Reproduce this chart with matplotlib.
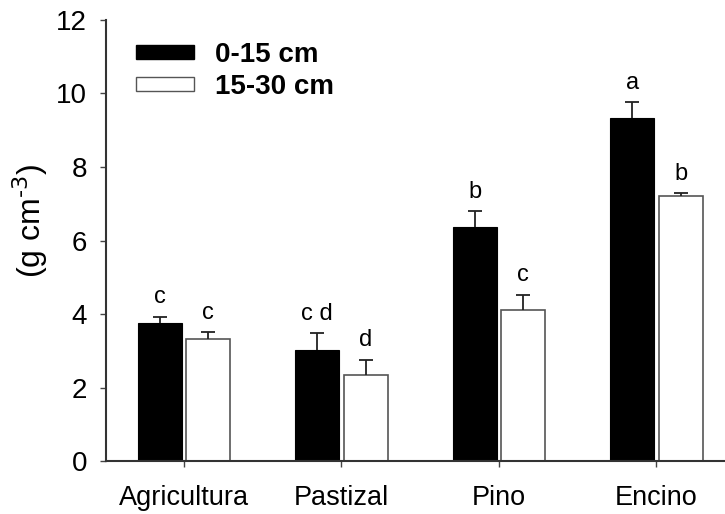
import numpy as np
import matplotlib
matplotlib.use("Agg")
import matplotlib.pyplot as plt
from matplotlib.patches import Patch

plt.rcParams['font.family'] = ['Liberation Sans', 'DejaVu Sans']

# datos
categorias = ["Agricultura", "Pastizal", "Pino", "Encino"]
prof_0_15 = [3.75, 3.03, 6.38, 9.34]
prof_15_30 = [3.32, 2.33, 4.11, 7.22]
err_0_15 = [0.18, 0.44, 0.42, 0.43]
err_15_30 = [0.18, 0.43, 0.42, 0.08]
letras_0_15 = ["c", "c d", "b", "a"]
letras_15_30 = ["c", "d", "c", "b"]

fig = plt.figure(figsize=(7.25, 5.14), dpi=100)
ax = fig.add_axes([0.1462, 0.1031, 0.8538, 0.858])

x = np.arange(len(categorias))
w = 0.28
gap = 0.013
n = len(categorias)
ekw = dict(ecolor="#222222", elinewidth=1.3, capsize=5, capthick=1.3)

b1 = ax.bar(x - w/2 - gap, prof_0_15, width=w, color="black", edgecolor="black",
            linewidth=0.8, yerr=[[0]*n, err_0_15], error_kw=ekw, zorder=2)
b2 = ax.bar(x + w/2 + gap, prof_15_30, width=w, color="white", edgecolor="#555555",
            linewidth=1.2, yerr=[[0]*n, err_15_30], error_kw=ekw, zorder=2)

# solo la parte superior de la barra de error
for b in (b1, b2):
    caps = b.errorbar.lines[1]
    caps[0].set_visible(False)

for i in range(n):
    ax.text(x[i] - w/2 - gap, prof_0_15[i] + err_0_15[i] + 0.22, letras_0_15[i],
            ha="center", va="bottom", fontsize=17)
    ax.text(x[i] + w/2 + gap, prof_15_30[i] + err_15_30[i] + 0.22, letras_15_30[i],
            ha="center", va="bottom", fontsize=17)

ax.set_ylim(0, 12)
ax.set_xlim(-0.495, 3.435)
ax.set_yticks([0, 2, 4, 6, 8, 10, 12])
ax.set_xticks(x)
ax.set_xticklabels(categorias, fontsize=19.5)
ax.tick_params(axis="y", labelsize=20, length=4.5, width=1, color="#444444", pad=9)
ax.tick_params(axis="x", length=4.5, width=1, color="#444444", pad=13)
ax.set_ylabel(r"(g cm$^{\text{-3}}$)", fontsize=23)
ax.yaxis.set_label_coords(-0.09, 0.544)

for s in ["top", "right"]:
    ax.spines[s].set_visible(False)
for s in ["left", "bottom"]:
    ax.spines[s].set_color("#333333")
    ax.spines[s].set_linewidth(1.5)

handles = [Patch(facecolor="black", edgecolor="black"),
           Patch(facecolor="white", edgecolor="#555555")]
leg = ax.legend(handles, ["0-15 cm", "15-30 cm"], loc="upper left",
                bbox_to_anchor=(0.048, 0.951), frameon=False,
                borderpad=0, borderaxespad=0,
                prop={"weight": "bold", "size": 20},
                handlelength=2.1, handleheight=0.4, handletextpad=0.77,
                labelspacing=0.22)

fig.savefig("out.png", dpi=100)
